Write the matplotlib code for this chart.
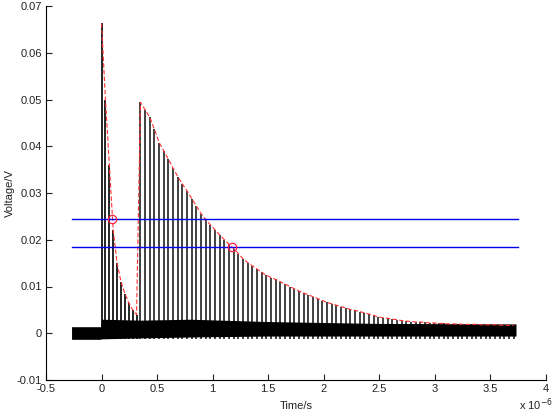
import numpy as np
import matplotlib.pyplot as plt

plt.rcParams['font.family'] = ['Liberation Sans', 'DejaVu Sans']

# pulse peaks (time in us, voltage in V)
t1 = [0.00, 0.035, 0.07, 0.105, 0.14, 0.175, 0.21, 0.245, 0.28, 0.315]
v1 = [0.0663, 0.0500, 0.0360, 0.0220, 0.0150, 0.0110, 0.0085, 0.0065, 0.0050, 0.0040]

t2 = [0.350, 0.392, 0.434, 0.476, 0.518, 0.560, 0.602, 0.644, 0.686, 0.728,
      0.770, 0.812, 0.854, 0.896, 0.938, 0.980, 1.022, 1.064, 1.106, 1.148,
      1.190, 1.232, 1.274, 1.316, 1.358, 1.400, 1.442, 1.484, 1.526, 1.568,
      1.610, 1.652, 1.694, 1.736, 1.778, 1.820, 1.862, 1.904, 1.946, 1.988,
      2.030, 2.072, 2.114, 2.156, 2.198, 2.240, 2.282, 2.324, 2.366, 2.408,
      2.450, 2.492, 2.534, 2.576, 2.618, 2.660, 2.702, 2.744, 2.786, 2.828,
      2.870, 2.912, 2.954, 2.996, 3.038, 3.080, 3.122, 3.164, 3.206, 3.248,
      3.290, 3.332, 3.374, 3.416, 3.458, 3.500, 3.542, 3.584, 3.626, 3.668, 3.710]
v2 = [0.0494, 0.0478, 0.0462, 0.0436, 0.0408, 0.0390, 0.0372, 0.0353, 0.0335, 0.0319,
      0.0304, 0.0288, 0.0272, 0.0256, 0.0243, 0.0232, 0.0221, 0.0210, 0.0200, 0.0190,
      0.0181, 0.0170, 0.0159, 0.0151, 0.0144, 0.0137, 0.0130, 0.0124, 0.0119, 0.0115,
      0.0110, 0.0105, 0.0100, 0.0095, 0.0090, 0.0086, 0.0082, 0.0078, 0.0074, 0.0070,
      0.0066, 0.0063, 0.0060, 0.0057, 0.0054, 0.0051, 0.0049, 0.0046, 0.0044, 0.0041,
      0.0038, 0.0035, 0.0033, 0.0032, 0.0030, 0.0029, 0.0027, 0.0026, 0.0025, 0.0024,
      0.0024, 0.0023, 0.0022, 0.0022, 0.0021, 0.0021, 0.0020, 0.0020, 0.0020, 0.0019,
      0.0019, 0.0019, 0.0019, 0.0018, 0.0018, 0.0018, 0.0018, 0.0017, 0.0017, 0.0017, 0.0017]

# baseline noise band
noise_t = [-0.27, -0.01, 0.0, 0.35, 0.8, 1.5, 2.5, 3.73]
noise_hi = [0.0014, 0.0014, 0.0030, 0.0028, 0.0030, 0.0025, 0.0021, 0.0020]
noise_lo = [-0.0013, -0.0013, -0.0012, -0.0010, -0.0008, -0.0006, -0.0006, -0.0006]

# thresholds and crossing points
thresholds = [0.0245, 0.0184]
t_span = [-0.27, 3.75]
cross_t = [0.096, 1.177]
cross_v = [0.0245, 0.0184]

xticks = [-0.5, 0, 0.5, 1, 1.5, 2, 2.5, 3, 3.5, 4]
xticklabels = ['-0.5', '0', '0.5', '1', '1.5', '2', '2.5', '3', '3.5', '4']
yticks = [-0.01, 0, 0.01, 0.02, 0.03, 0.04, 0.05, 0.06, 0.07]
yticklabels = ['-0.01', '0', '0.01', '0.02', '0.03', '0.04', '0.05', '0.06', '0.07']

s = 1e-6
fig = plt.figure(figsize=(5.55, 4.16), dpi=100)
ax = fig.add_axes([46/555, 36/416, 500/555, 374/416])

ax.fill_between(np.array(noise_t)*s, noise_lo, noise_hi, color='k', lw=0)
ax.vlines(np.array(t1)*s, -0.0012, v1, color='k', lw=1.2)
ax.vlines(np.array(t2)*s, -0.0012, v2, color='k', lw=1.3, alpha=0.8)

ax.plot(np.array(t1 + t2)*s, v1 + v2, color='#ff3030', ls='--', lw=0.8, dashes=(4, 2))
for th in thresholds:
    ax.plot(np.array(t_span)*s, [th, th], color='#0000ee', lw=1.0)
ax.plot(np.array(cross_t)*s, cross_v, 'o', mfc='none', mec='#ff2040', ms=6, mew=0.9)

ax.set_xlim(-0.5e-6, 4e-6)
ax.set_ylim(-0.01, 0.07)
ax.set_xticks(np.array(xticks)*s)
ax.set_xticklabels(xticklabels)
ax.set_yticks(yticks)
ax.set_yticklabels(yticklabels)
ax.tick_params(direction='in', length=4, width=0.8, labelsize=8, pad=3, colors='#222222')
for side in ['top', 'right']:
    ax.spines[side].set_visible(False)
ax.set_xlabel('Time/s', fontsize=8, color='#222222')
ax.xaxis.set_label_coords(0.5, -0.055)
ax.set_ylabel('Voltage/V', fontsize=8, color='#222222')
ax.yaxis.set_label_coords(-0.063, 0.5)
fig.text(519/555, 3/416, 'x 10$^{-6}$', fontsize=8, ha='left', va='bottom', color='#222222')

fig.savefig('out.png', dpi=100)
